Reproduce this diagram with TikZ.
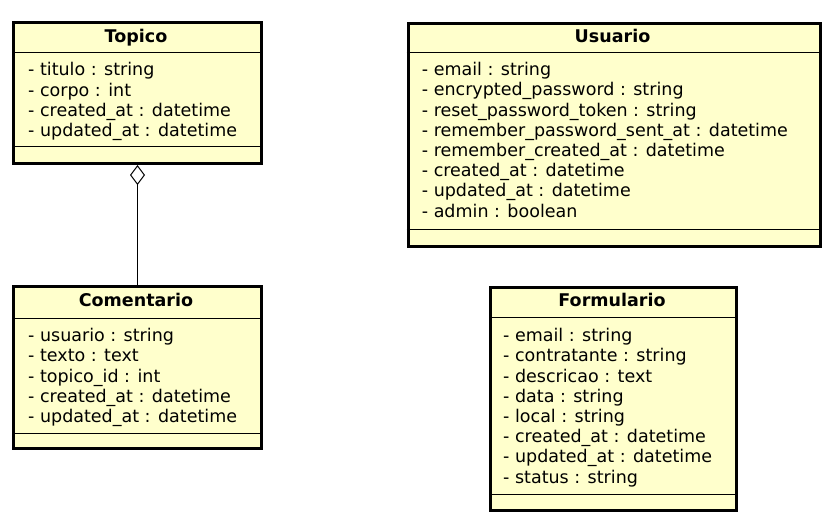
\documentclass[tikz,border=0pt]{standalone}
\usepackage{xcolor}
\usepackage{fontspec}
\setmainfont{DejaVu Sans}
\usepackage{tikz}
\usetikzlibrary{positioning,arrows.meta}
\definecolor{classfill}{RGB}{255,255,204}
\newcommand{\umlfont}{\fontsize{17.5}{20.2}\selectfont}
\tikzstyle{classbox} = [draw, line width=3pt, fill=classfill, anchor=north west, inner sep=0pt]
\tikzstyle{classname} = [font=\umlfont\bfseries, anchor=base, inner sep=0pt]
\tikzstyle{attrlist} = [font=\umlfont, align=left, anchor=base west, inner sep=0pt]
\tikzstyle{sepline} = [draw, line width=1pt]
\tikzstyle{line} = [draw, line width=1pt, {Diamond[open,length=20pt,width=15pt]}-]

\begin{document}
\begin{tikzpicture}[x=1pt, y=-1pt]
    \useasboundingbox (0,0) rectangle (833,520);
    % Place nodes
    \node [classbox, minimum width=248pt, minimum height=141pt] (topico) at (12,21) {};
    \node [classbox, minimum width=248pt, minimum height=162pt] (comentario) at (12,285) {};
    \node [classbox, minimum width=412pt, minimum height=223.5pt] (usuario) at (406.5,21.5) {};
    \node [classbox, minimum width=246pt, minimum height=223pt] (formulario) at (489,285.5) {};
    \node [classname] (topicoName) at (136,42.5) {Topico};
    \node [classname] (comentarioName) at (136,306.7) {Comentario};
    \node [classname] (usuarioName) at (612.5,42.3) {Usuario};
    \node [classname] (formularioName) at (612,306.7) {Formulario};
    % attribute lists sit on the baseline of their last line
    \node [attrlist] (topicoAttr) at (28,136.5) {- titulo : string\\- corpo : int\\- created\_at : datetime\\- updated\_at : datetime};
    \node [attrlist] (comentarioAttr) at (28,422.5) {- usuario : string\\- texto : text\\- topico\_id : int\\- created\_at : datetime\\- updated\_at : datetime};
    \node [attrlist] (usuarioAttr) at (421.7,217) {- email : string\\- encrypted\_password : string\\- reset\_password\_token : string\\- remember\_password\_sent\_at : datetime\\- remember\_created\_at : datetime\\- created\_at : datetime\\- updated\_at : datetime\\- admin : boolean};
    \node [attrlist] (formularioAttr) at (503,483) {- email : string\\- contratante : string\\- descricao : text\\- data : string\\- local : string\\- created\_at : datetime\\- updated\_at : datetime\\- status : string};

    % Draw separators
    \path [sepline] (topico.west |- 0,52) -- (topico.east |- 0,52);
    \path [sepline] (topico.west |- 0,146) -- (topico.east |- 0,146);
    \path [sepline] (comentario.west |- 0,318) -- (comentario.east |- 0,318);
    \path [sepline] (comentario.west |- 0,433) -- (comentario.east |- 0,433);
    \path [sepline] (usuario.west |- 0,52) -- (usuario.east |- 0,52);
    \path [sepline] (usuario.west |- 0,229) -- (usuario.east |- 0,229);
    \path [sepline] (formulario.west |- 0,317) -- (formulario.east |- 0,317);
    \path [sepline] (formulario.west |- 0,494) -- (formulario.east |- 0,494);

    % Draw edges
    \path [line] (topico) -- (comentario);
\end{tikzpicture}
\end{document}
